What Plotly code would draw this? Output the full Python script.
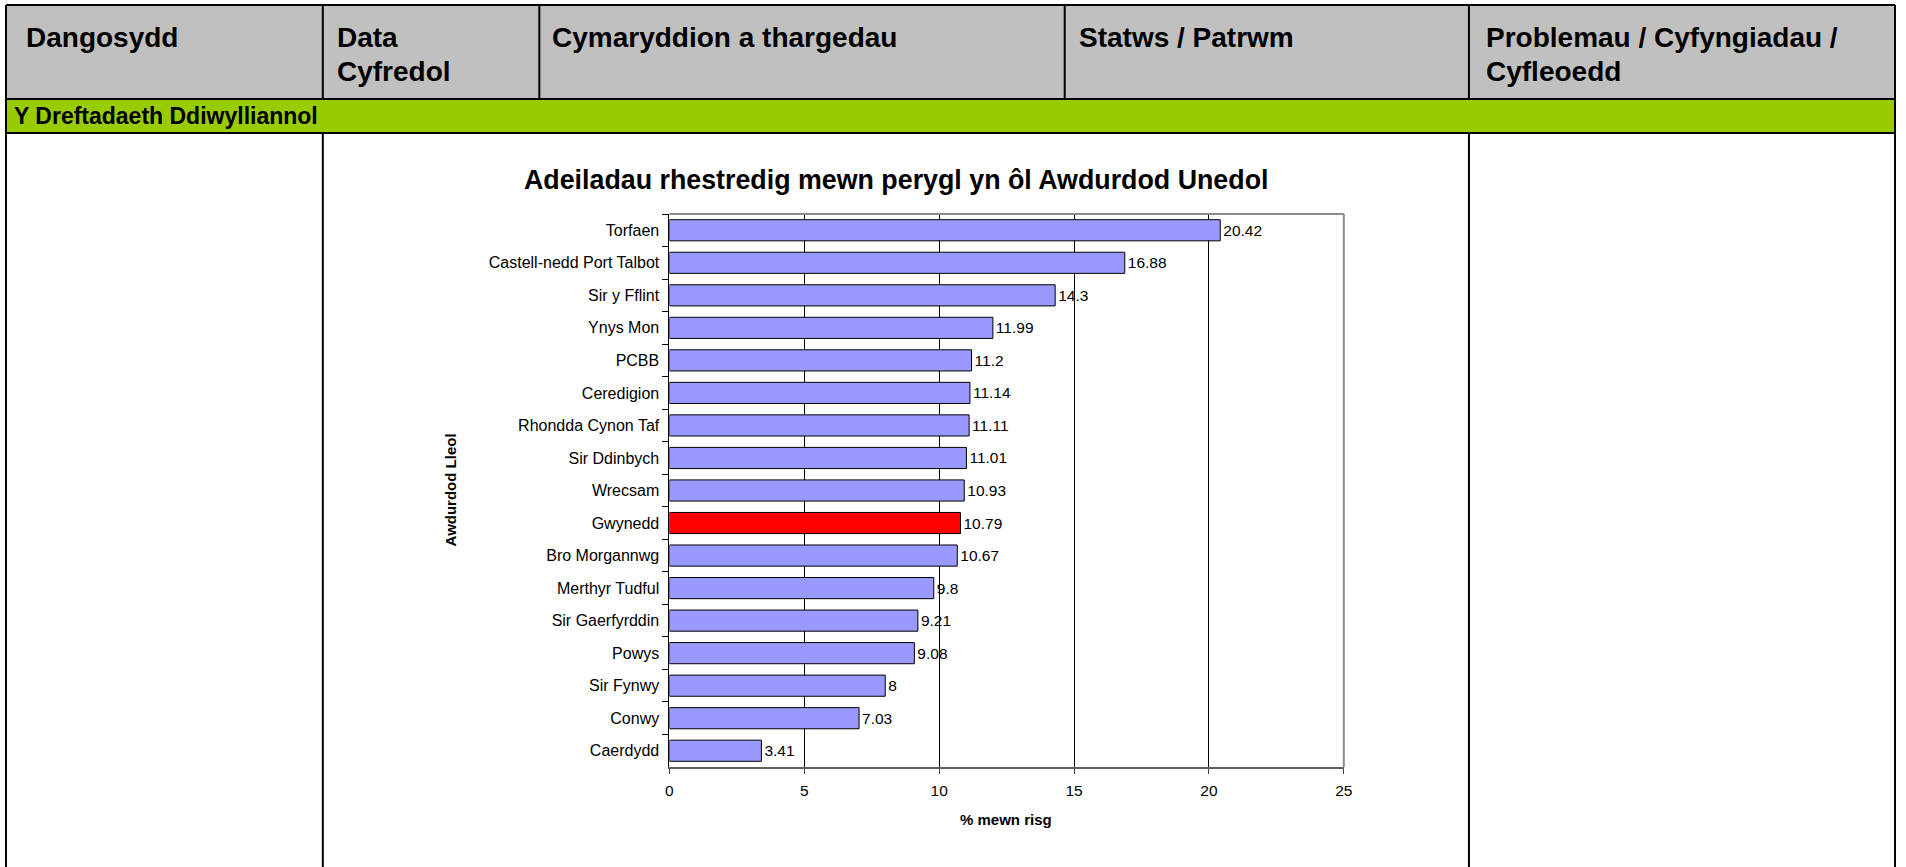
import plotly.graph_objects as go

# ---- data ----
authorities = ["Torfaen", "Castell-nedd Port Talbot", "Sir y Fflint", "Ynys Mon", "PCBB",
               "Ceredigion", "Rhondda Cynon Taf", "Sir Ddinbych", "Wrecsam", "Gwynedd",
               "Bro Morgannwg", "Merthyr Tudful", "Sir Gaerfyrddin", "Powys", "Sir Fynwy",
               "Conwy", "Caerdydd"]
pct_at_risk = [20.42, 16.88, 14.3, 11.99, 11.2, 11.14, 11.11, 11.01, 10.93, 10.79,
               10.67, 9.8, 9.21, 9.08, 8, 7.03, 3.41]
highlight = "Gwynedd"
x_ticks = [0, 5, 10, 15, 20, 25]

section = "Y Dreftadaeth Ddiwylliannol"
chart_title = "Adeiladau rhestredig mewn perygl yn ôl Awdurdod Unedol"
x_title = "% mewn risg"
y_title = "Awdurdod Lleol"

# ---- geometry helpers (pixels -> paper) ----
W, H = 1906, 867
def px(x):
    return x / W
def py(y):
    return 1 - y / H

FONT = "Liberation Sans, Arial, sans-serif"
BAR = "#9999FF"
colors = ["#FF0000" if a == highlight else BAR for a in authorities]

fig = go.Figure(go.Bar(
    x=pct_at_risk, y=authorities, orientation="h",
    marker=dict(color=colors, line=dict(color="black", width=1)),
    text=[f"{v:g}" for v in pct_at_risk], textposition="outside",
    textfont=dict(family=FONT, size=15.5, color="black"),
    cliponaxis=False, constraintext="none", hoverinfo="x+y",
))

# table frame
shapes = []
L, R, T = 2, 1904, 5
hdr_b, grn_b = 99, 133
shapes.append(dict(type="rect", xref="paper", yref="paper", x0=px(L), x1=px(R), y0=py(hdr_b), y1=py(T),
                   fillcolor="#C0C0C0", line=dict(width=0), layer="below"))
shapes.append(dict(type="rect", xref="paper", yref="paper", x0=px(L), x1=px(R), y0=py(grn_b), y1=py(hdr_b),
                   fillcolor="#99CC00", line=dict(width=0), layer="below"))
def hline(y, x0=L, x1=R):
    shapes.append(dict(type="line", xref="paper", yref="paper", x0=px(x0), x1=px(x1), y0=py(y), y1=py(y),
                       line=dict(color="black", width=2), layer="below"))
def vline(x, y0, y1):
    shapes.append(dict(type="line", xref="paper", yref="paper", x0=px(x), x1=px(x), y0=py(y0), y1=py(y1),
                       line=dict(color="black", width=2), layer="below"))
hline(T); hline(hdr_b); hline(grn_b)
vline(L, T, H); vline(R, T, H)
for xd in [321, 539, 1068, 1475]:
    vline(xd, T, hdr_b)
for xd in [321, 1475]:
    vline(xd, grn_b, H)

# plot area top/right border (grey)
shapes.append(dict(type="line", xref="x domain", yref="y domain", x0=0, x1=1, y0=1, y1=1,
                   line=dict(color="#8C8C8C", width=2), layer="above"))
shapes.append(dict(type="line", xref="x domain", yref="y domain", x0=1, x1=1, y0=0, y1=1,
                   line=dict(color="#8C8C8C", width=2), layer="above"))

ann = []
def text(x, y, s, size, bold=True, xanchor="left", angle=0):
    ann.append(dict(x=px(x), y=py(y), xref="paper", yref="paper", text=(f"<b>{s}</b>" if bold else s),
                    showarrow=False, xanchor=xanchor, yanchor="middle", textangle=angle,
                    font=dict(family=FONT, size=size, color="black")))

HS = 28
text(20, 37, "Dangosydd", HS)
text(333, 37, "Data", HS)
text(333, 71, "Cyfredol", HS)
text(550, 37, "Cymaryddion a thargedau", HS)
text(1080, 37, "Statws / Patrwm", HS)
text(1490, 37, "Problemau / Cyfyngiadau /", HS)
text(1490, 71, "Cyfleoedd", HS)
text(8, 116, section, 23)
text(898, 180, chart_title, 26.8, xanchor="center")
text(1009, 819, x_title, 15, xanchor="center")
text(450, 489.5, y_title, 15, xanchor="center", angle=-90)

fig.update_layout(
    width=W, height=H, autosize=False,
    margin=dict(l=0, r=0, t=0, b=0, pad=0),
    paper_bgcolor="white", plot_bgcolor="white",
    showlegend=False, bargap=0.35,
    shapes=shapes, annotations=ann,
    font=dict(family=FONT, size=15, color="black"),
    xaxis=dict(domain=[px(670), px(1349)], range=[0, 25], tickvals=x_ticks,
               showgrid=True, gridcolor="black", gridwidth=1, zeroline=False,
               ticks="outside", ticklen=5, tickcolor="#404040", tickwidth=1,
               showline=True, linecolor="#606060", linewidth=2, ticklabelstandoff=3,
               tickfont=dict(family=FONT, size=15.5, color="black")),
    yaxis=dict(domain=[py(767), py(214)], type="category", autorange="reversed",
               ticks="outside", tickson="boundaries", ticklen=6, tickcolor="black", tickwidth=1,
               showline=True, linecolor="black", linewidth=1, showgrid=False,
               tickfont=dict(family=FONT, size=16, color="black"), ticklabelstandoff=6),
)

fig.write_html("out.html", config={"displayModeBar": False},
               post_script="document.body.style.margin='0';document.body.style.overflow='hidden';")
